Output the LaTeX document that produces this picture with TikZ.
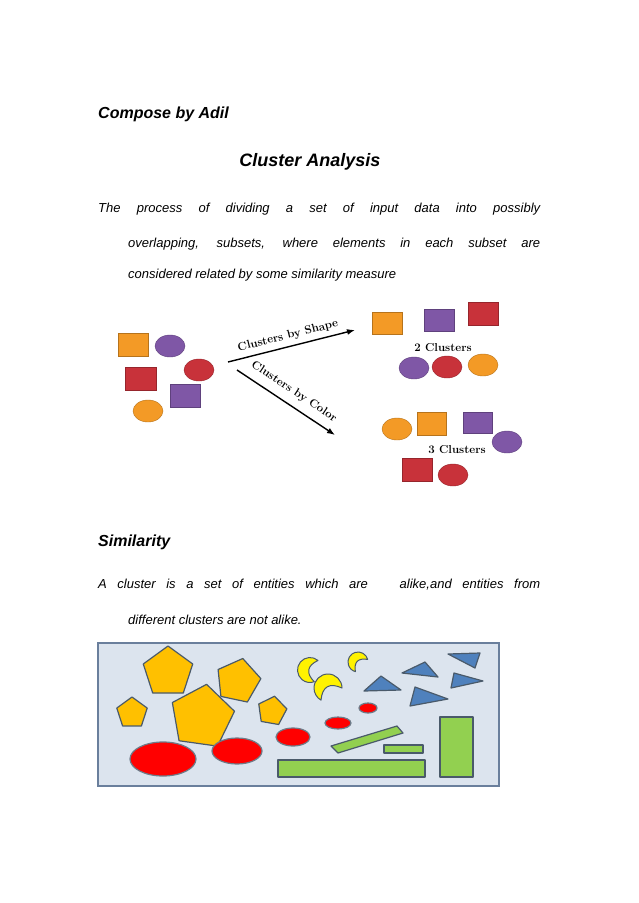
\documentclass[tikz,border=0pt]{standalone}
\usepackage{fontspec}
\setmainfont{Liberation Sans}
\newfontfamily\labelfont{Latin Modern Roman}
\usetikzlibrary{arrows.meta}

\definecolor{shOrange}{HTML}{F39A26}
\definecolor{shPurple}{HTML}{7F57A6}
\definecolor{shRed}{HTML}{C8323A}
\definecolor{boxFill}{HTML}{DCE4EE}
\definecolor{boxLine}{HTML}{6A7F9C}
\definecolor{penFill}{HTML}{FFC000}
\definecolor{edgeLine}{HTML}{4A5A6A}
\definecolor{triFill}{HTML}{4F81BD}
\definecolor{greenFill}{HTML}{92D050}

\begin{document}
\begin{tikzpicture}[x=1pt,y=-1pt,
    body/.style={font=\fontsize{13}{15}\selectfont\itshape, inner sep=0pt, anchor=base west},
    head/.style={font=\fontsize{16}{18}\selectfont\bfseries\itshape, inner sep=0pt},
    sq/.style={draw=#1!75!black, fill=#1, line width=0.4pt},
    el/.style={draw=#1!75!black, fill=#1, line width=0.4pt},
    tag/.style={font=\labelfont\bfseries\fontsize{11.5}{13}\selectfont, inner sep=2pt},
    shp/.style={draw=edgeLine, line width=1.2pt, line join=round}]
  % page
  \useasboundingbox (0,0) rectangle (638,903);

  % headings and text
  \node[head, anchor=base west] (author) at (98,118) {Compose by Adil};
  \node[head, font=\fontsize{18}{20}\selectfont\bfseries\itshape, anchor=base] (title) at (310,166) {Cluster Analysis};
  \node[body] (introA) at (98,212) {\makebox[442pt][s]{The process of dividing a set of input data into possibly}};
  \node[body] (introB) at (128,247) {\makebox[412pt][s]{overlapping, subsets, where elements in each subset are}};
  \node[body] (introC) at (128,278) {considered related by some similarity measure};

  % first figure: the data
  \draw[sq=shOrange] (118,333) rectangle (148,356);
  \draw[el=shPurple] (170,346) ellipse [x radius=15, y radius=11];
  \draw[sq=shRed] (125,367) rectangle (156,390);
  \draw[el=shRed] (199,370) ellipse [x radius=15, y radius=11];
  \draw[sq=shPurple] (170,384) rectangle (200,407);
  \draw[el=shOrange] (148,411) ellipse [x radius=15, y radius=11];

  % arrows
  \coordinate (shapeStart) at (228,362);
  \coordinate (shapeEnd) at (355,330);
  \coordinate (colorStart) at (237,370);
  \coordinate (colorEnd) at (335,435);
  \draw[-{Latex[length=8pt]}, line width=1.4pt] (shapeStart) -- (shapeEnd);
  \draw[-{Latex[length=8pt]}, line width=1.4pt] (colorStart) -- (colorEnd);
  \node[tag, rotate=14] (shapeTag) at (288,336) {Clusters by Shape};
  \node[tag, rotate=-33.5] (colorTag) at (294,392) {Clusters by Color};

  % 2 clusters
  \draw[sq=shOrange] (372,312) rectangle (402,334);
  \draw[sq=shPurple] (424,309) rectangle (454,331);
  \draw[sq=shRed] (468,302) rectangle (498,325);
  \node[tag] (twoLabel) at (443,348) {2 Clusters};
  \draw[el=shPurple] (414,368) ellipse [x radius=15, y radius=11];
  \draw[el=shRed] (447,367) ellipse [x radius=15, y radius=11];
  \draw[el=shOrange] (483,365) ellipse [x radius=15, y radius=11];

  % 3 clusters
  \draw[el=shOrange] (397,429) ellipse [x radius=15, y radius=11];
  \draw[sq=shOrange] (417,412) rectangle (446,435);
  \draw[sq=shPurple] (463,412) rectangle (492,433);
  \draw[el=shPurple] (507,442) ellipse [x radius=15, y radius=11];
  \node[tag] (threeLabel) at (457,450) {3 Clusters};
  \draw[sq=shRed] (402,458) rectangle (432,481);
  \draw[el=shRed] (453,475) ellipse [x radius=15, y radius=11];

  % similarity
  \node[head, anchor=base west] (simHead) at (98,546) {Similarity};
  \node[body] (simA) at (98,588) {\makebox[442pt][s]{A cluster is a set of entities which are \ \ alike,and entities from}};
  \node[body] (simB) at (128,624) {different clusters are not alike.};

  % second figure
  \draw[fill=boxFill, draw=boxLine, line width=1.2pt] (98,643) rectangle (499,786);
  % pentagons
  \foreach \cx/\cy/\r/\rot in {168/672/26/0, 238/681/23/12, 132/713/16/0, 202/717/33/8, 272/711/15/10}
    \draw[shp, fill=penFill] (\cx,\cy) +(270+\rot:\r) -- +(342+\rot:\r) -- +(54+\rot:\r) -- +(126+\rot:\r) -- +(198+\rot:\r) -- cycle;
  % moons
  \foreach \cx/\cy/\s/\rot in {310/670/1.25/-10, 358/662/1/-45, 328/688/1.4/-60}
    \draw[shp, fill=yellow, line width=1pt, shift={(\cx,\cy)}, xscale=-1, yscale=-1, rotate=\rot, scale=\s]
      (120:10) arc[start angle=120, end angle=-120, radius=10] .. controls (3,-3) and (3,3) .. cycle;
  % discs
  \foreach \cx/\cy/\rx/\ry in {163/759/33/17, 237/751/25/13, 293/737/17/9, 338/723/13/6, 368/708/9/5}
    \draw[shp, draw=edgeLine!80, fill=red] (\cx,\cy) ellipse [x radius=\rx, y radius=\ry];
  % triangles
  \draw[shp, fill=triFill] (364,691) -- (401,690) -- (381,676) -- cycle;
  \draw[shp, fill=triFill] (402,673) -- (425,662) -- (438,677) -- cycle;
  \draw[shp, fill=triFill] (448,654) -- (480,653) -- (475,668) -- cycle;
  \draw[shp, fill=triFill] (451,688) -- (454,673) -- (483,681) -- cycle;
  \draw[shp, fill=triFill] (410,706) -- (415,687) -- (448,699) -- cycle;
  % bars
  \draw[shp, fill=greenFill] (278,760) rectangle (425,777);
  \draw[shp, fill=greenFill] (440,717) rectangle (473,777);
  \draw[shp, fill=greenFill] (384,745) rectangle (423,753);
  \draw[shp, fill=greenFill] (331,746) -- (397,726) -- (403,733) -- (338,753) -- cycle;
\end{tikzpicture}
\end{document}
